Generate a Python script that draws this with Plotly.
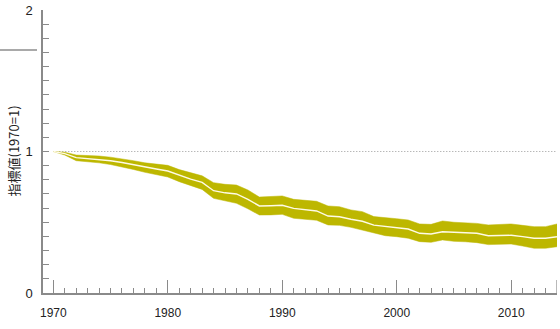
import plotly.graph_objects as go

# Index values (1970 = 1) with lower / upper bounds of the uncertainty band
years = list(range(1970, 2015))
index_mid = [1.000, 0.985, 0.957, 0.950, 0.944, 0.935, 0.922, 0.905, 0.888, 0.876,
             0.862, 0.832, 0.805, 0.782, 0.723, 0.708, 0.700, 0.662, 0.615, 0.617,
             0.620, 0.598, 0.588, 0.580, 0.544, 0.539, 0.521, 0.507, 0.480, 0.470,
             0.463, 0.452, 0.422, 0.417, 0.433, 0.428, 0.425, 0.422, 0.405, 0.406,
             0.408, 0.398, 0.387, 0.387, 0.398]
index_low = [1.000, 0.975, 0.935, 0.928, 0.920, 0.908, 0.893, 0.873, 0.853, 0.838,
             0.820, 0.787, 0.757, 0.732, 0.669, 0.650, 0.634, 0.595, 0.551, 0.552,
             0.556, 0.528, 0.520, 0.514, 0.481, 0.478, 0.464, 0.445, 0.422, 0.405,
             0.398, 0.387, 0.363, 0.358, 0.375, 0.365, 0.362, 0.356, 0.342, 0.344,
             0.346, 0.332, 0.316, 0.316, 0.327]
index_high = [1.000, 0.995, 0.975, 0.972, 0.968, 0.960, 0.950, 0.935, 0.920, 0.912,
              0.902, 0.872, 0.850, 0.828, 0.780, 0.768, 0.763, 0.728, 0.678, 0.682,
              0.686, 0.662, 0.655, 0.648, 0.615, 0.610, 0.587, 0.575, 0.540, 0.530,
              0.525, 0.516, 0.488, 0.485, 0.509, 0.500, 0.495, 0.492, 0.481, 0.484,
              0.488, 0.478, 0.469, 0.469, 0.488]

y_title = "指標値(1970=1)"

BAND = "#bdb700"
AXIS = "#8a8a8a"
W, H = 560, 329
L, R, T, B = 43, 3, 10, 36
PW, PH = W - L - R, H - T - B

fig = go.Figure()

# baseline at 1
fig.add_trace(go.Scatter(x=[years[0], years[-1]], y=[1, 1], mode="lines",
                         line=dict(color="#9a9a9a", width=1, dash="1px,2px"),
                         hoverinfo="skip", showlegend=False))

# band
fig.add_trace(go.Scatter(x=years, y=index_low, mode="lines",
                         line=dict(color=BAND, width=0.5), showlegend=False))
fig.add_trace(go.Scatter(x=years, y=index_high, mode="lines", fill="tonexty",
                         fillcolor=BAND, line=dict(color=BAND, width=0.5),
                         showlegend=False))
# central estimate
fig.add_trace(go.Scatter(x=years, y=index_mid, mode="lines",
                         line=dict(color="#fffbe6", width=1.4), showlegend=False))

fig.update_layout(
    width=W, height=H,
    margin=dict(l=L, r=R, t=T, b=B),
    paper_bgcolor="white", plot_bgcolor="white",
    font=dict(family="Liberation Sans, Arial, sans-serif", size=12, color="#222"),
    xaxis=dict(
        range=[1969.1, 2014], showgrid=False, zeroline=False,
        showline=True, linecolor=AXIS, linewidth=1.5,
        ticks="inside", tick0=1970, dtick=10, ticklen=13, tickwidth=1.2,
        tickcolor=AXIS, ticklabelstandoff=8,
        minor=dict(ticks="inside", dtick=1, ticklen=5.5, tickwidth=1.2,
                   tickcolor=AXIS, showgrid=False),
    ),
    yaxis=dict(
        range=[0, 2], showgrid=False, zeroline=False,
        showline=True, linecolor=AXIS, linewidth=1.5,
        ticks="inside", tick0=0, dtick=1, ticklen=6, tickwidth=1.2,
        tickcolor=AXIS, ticklabelstandoff=6,
        tickfont=dict(size=13),
        minor=dict(ticks="inside", dtick=0.1, ticklen=6, tickwidth=1.2,
                   tickcolor=AXIS, showgrid=False),
    ),
    annotations=[dict(
        text=y_title, textangle=-90, showarrow=False,
        xref="paper", yref="paper",
        x=(13 - L) / PW, y=0.5, xanchor="center", yanchor="middle",
        font=dict(family="Noto Sans CJK JP, sans-serif", size=13, color="#222"),
    )],
    shapes=[
        # closing tick at right end of the time axis
        dict(type="line", xref="x", yref="paper", x0=2014, x1=2014,
             y0=0, y1=13 / PH, line=dict(color=AXIS, width=1.2)),
        # short rule at upper left
        dict(type="line", xref="paper", yref="paper",
             x0=-L / PW, x1=(37 - L) / PW,
             y0=(H - B - 50) / PH, y1=(H - B - 50) / PH,
             line=dict(color="#555", width=1.2)),
    ],
)

fig.write_html("out.html")
